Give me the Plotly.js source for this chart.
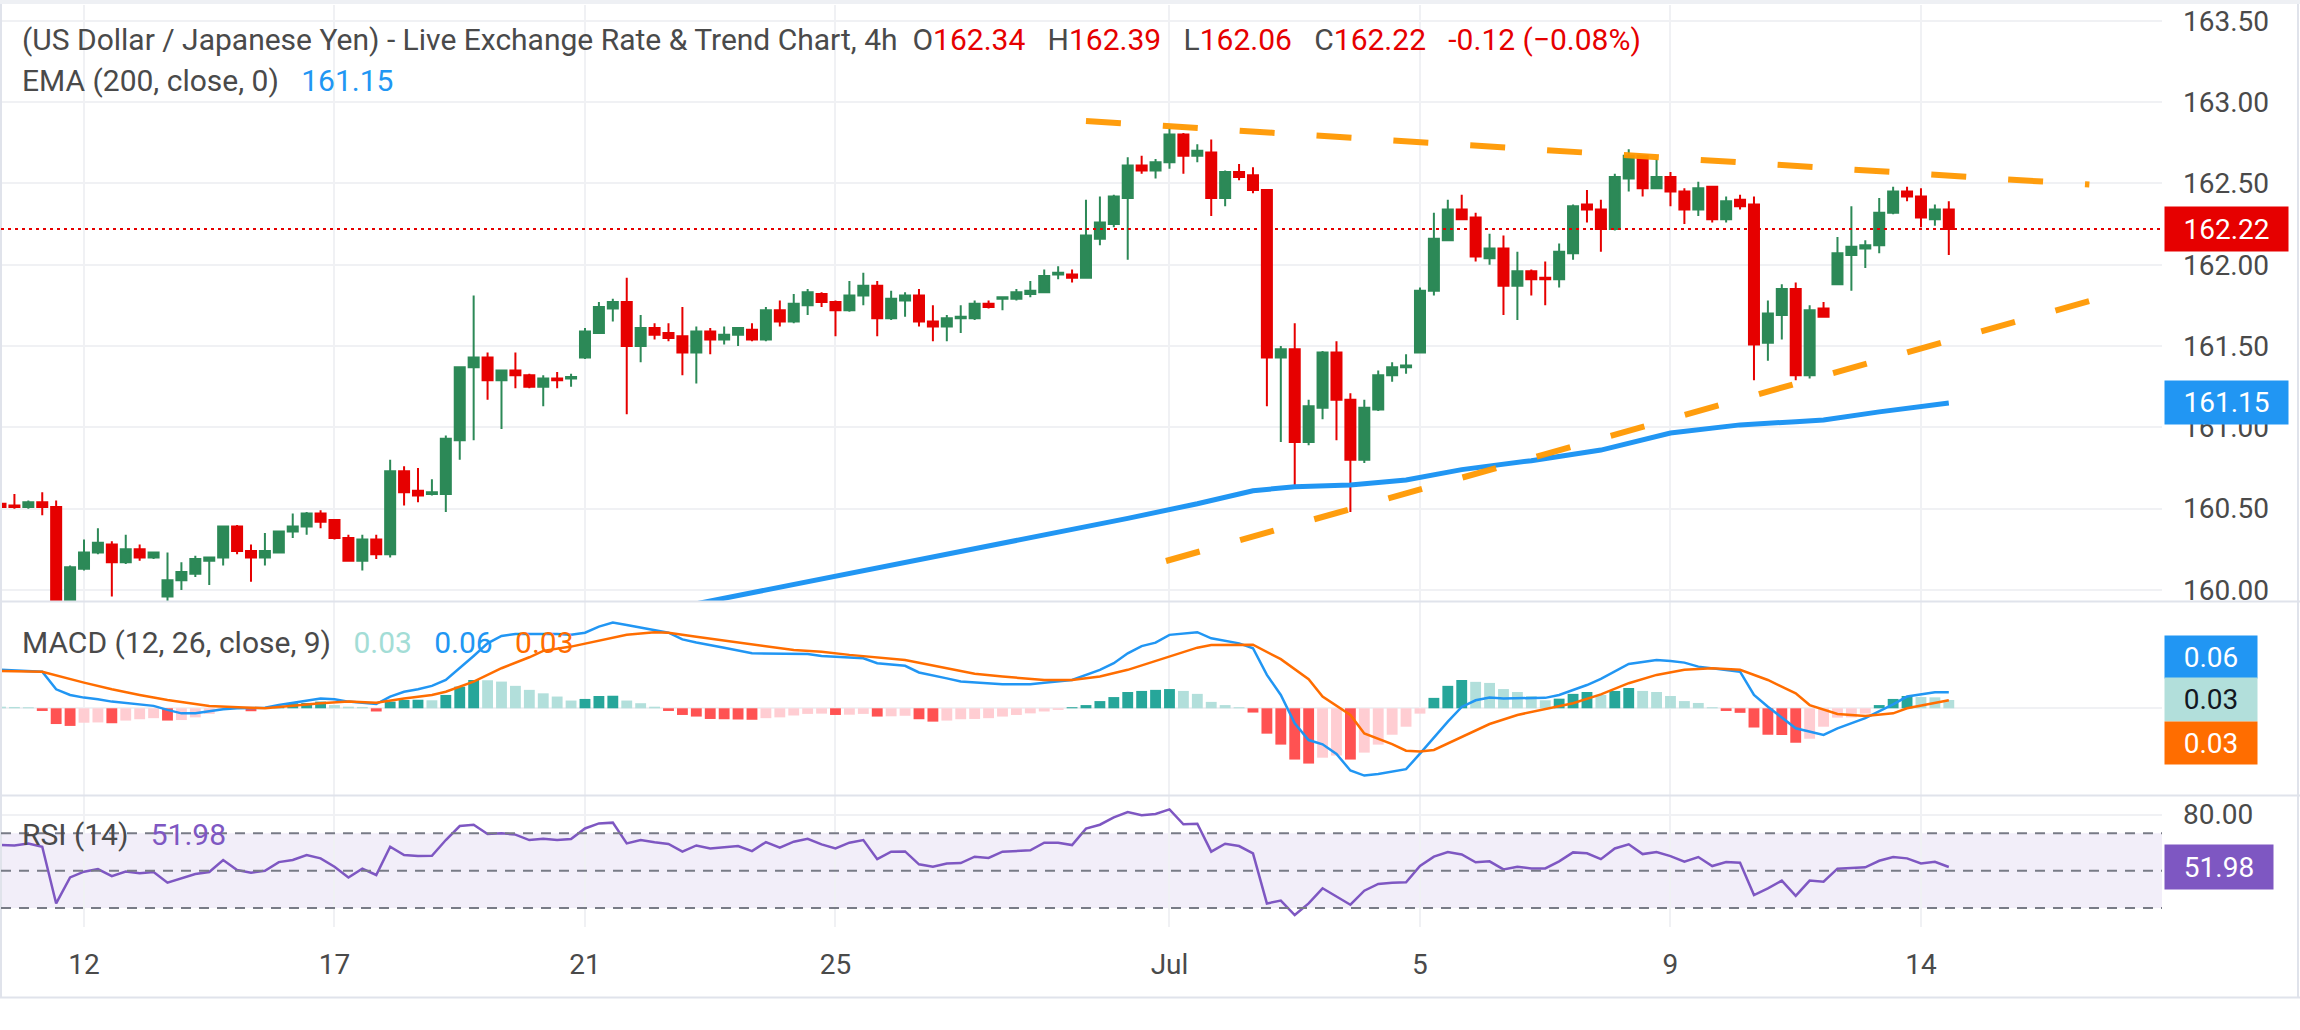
<!DOCTYPE html>
<html><head><meta charset="utf-8">
<script src="https://cdn.plot.ly/plotly-3.0.1.min.js"></script>
<style>html,body{margin:0;padding:0;background:#fff;overflow:hidden}#chart{width:2300px;height:1030px}</style>
</head><body><div id="chart"></div>
<script>
// ---------------- DATA ----------------
const tickIdx = [6, 24, 42, 60, 84, 102, 120, 138];
const tickLabels = ["12", "17", "21", "25", "Jul", "5", "9", "14"];

const open = [
160.53,160.52,160.51,160.54,160.51,159.80,160.13,160.23,160.28,160.17,
160.25,160.20,159.96,160.06,160.10,160.18,160.20,160.39,160.24,160.20,
160.23,160.36,160.39,160.47,160.43,160.32,160.18,160.31,160.22,160.73,
160.61,160.59,160.59,160.92,161.37,161.43,161.29,161.35,161.32,161.25,
161.30,161.30,161.43,161.58,161.73,161.77,161.50,161.61,161.58,161.56,
161.46,161.59,161.54,161.57,161.60,161.54,161.72,161.65,161.75,161.82,
161.77,161.72,161.81,161.87,161.67,161.78,161.81,161.65,161.62,161.67,
161.67,161.76,161.79,161.79,161.82,161.83,161.94,161.94,161.92,162.16,
162.25,162.41,162.61,162.58,162.63,162.80,162.67,162.69,162.41,162.57,
162.55,162.46,161.43,161.48,160.91,161.12,161.46,161.17,160.80,161.11,
161.32,161.37,161.46,161.84,162.15,162.34,162.29,162.04,162.10,161.87,
161.96,161.92,161.91,162.07,162.37,162.34,162.22,162.53,162.67,162.47,
162.54,162.45,162.34,162.48,162.28,162.40,162.37,161.52,161.69,161.85,
161.32,161.73,161.88,162.06,162.10,162.12,162.32,162.45,162.42,162.28,
162.34];
const high = [
160.55,160.59,160.55,160.60,160.55,160.15,160.31,160.38,160.30,160.34,
160.28,160.23,160.23,160.17,160.21,160.20,160.39,160.40,160.28,160.35,
160.36,160.47,160.48,160.49,160.43,160.34,160.34,160.34,160.80,160.76,
160.75,160.68,160.95,161.37,161.81,161.46,161.35,161.46,161.33,161.32,
161.34,161.33,161.61,161.77,161.79,161.92,161.69,161.64,161.64,161.74,
161.62,161.61,161.62,161.61,161.64,161.74,161.78,161.82,161.85,161.83,
161.78,161.90,161.95,161.90,161.84,161.83,161.85,161.75,161.69,161.75,
161.78,161.78,161.80,161.85,161.90,161.97,161.99,161.97,162.40,162.42,
162.43,162.66,162.67,162.65,162.84,162.81,162.74,162.77,162.58,162.62,
162.60,162.46,161.50,161.64,161.17,161.47,161.53,161.21,161.17,161.35,
161.40,161.45,161.86,162.32,162.40,162.43,162.32,162.19,162.18,162.08,
161.97,162.02,162.13,162.37,162.46,162.40,162.56,162.71,162.67,162.65,
162.57,162.47,162.51,162.48,162.42,162.43,162.42,161.78,161.88,161.89,
161.75,161.77,162.17,162.36,162.15,162.41,162.48,162.48,162.47,162.37,
162.39];
const low = [
160.43,160.50,160.50,160.46,159.75,159.78,160.12,160.22,159.96,160.16,
160.18,160.19,159.93,160.00,160.08,160.03,160.15,160.22,160.05,160.15,
160.23,160.32,160.34,160.38,160.31,160.18,160.12,160.19,160.20,160.52,
160.54,160.58,160.48,160.80,160.92,161.17,160.99,161.24,161.24,161.13,
161.24,161.25,161.42,161.58,161.65,161.08,161.40,161.54,161.53,161.32,
161.27,161.45,161.51,161.50,161.53,161.53,161.62,161.64,161.69,161.74,
161.56,161.71,161.75,161.56,161.66,161.68,161.62,161.53,161.53,161.58,
161.66,161.73,161.72,161.78,161.80,161.83,161.91,161.89,161.92,162.12,
162.23,162.03,162.56,162.53,162.59,162.56,162.63,162.30,162.36,162.52,
162.44,161.13,160.91,160.64,160.89,161.05,160.92,160.48,160.78,161.10,
161.28,161.33,161.46,161.81,162.15,162.28,162.02,162.00,161.69,161.66,
161.81,161.75,161.86,162.03,162.26,162.08,162.21,162.45,162.42,162.47,
162.36,162.25,162.30,162.26,162.26,162.34,161.29,161.41,161.54,161.29,
161.30,161.68,161.88,161.84,161.98,162.07,162.31,162.39,162.23,162.24,
162.06];
const close = [
160.51,160.51,160.54,160.51,159.80,160.14,160.23,160.29,160.17,160.25,
160.20,160.23,160.06,160.11,160.19,160.20,160.39,160.24,160.20,160.24,
160.36,160.39,160.47,160.42,160.32,160.18,160.31,160.22,160.73,160.60,
160.58,160.60,160.93,161.37,161.43,161.29,161.35,161.32,161.25,161.30,
161.29,161.31,161.59,161.74,161.77,161.50,161.61,161.57,161.55,161.46,
161.59,161.54,161.57,161.61,161.54,161.72,161.65,161.76,161.83,161.77,
161.72,161.81,161.87,161.67,161.79,161.81,161.65,161.62,161.67,161.68,
161.76,161.74,161.80,161.83,161.84,161.93,161.95,161.92,162.18,162.26,
162.42,162.61,162.58,162.63,162.80,162.67,162.70,162.41,162.57,162.54,
162.46,161.43,161.48,160.91,161.13,161.46,161.17,160.80,161.12,161.32,
161.37,161.38,161.84,162.16,162.34,162.28,162.05,162.10,161.87,161.96,
161.91,161.91,162.08,162.36,162.34,162.22,162.54,162.67,162.47,162.54,
162.45,162.34,162.47,162.28,162.39,162.36,161.51,161.70,161.85,161.32,
161.72,161.68,162.07,162.11,162.12,162.32,162.45,162.42,162.29,162.34,
162.22];

const emaIdx = [50, 61, 81, 86, 90, 93, 97, 101, 105, 110, 115, 120, 125, 129, 131, 135, 138, 140];
const emaVal = [159.915,160.10,160.44,160.53,160.61,160.635,160.645,160.676,160.74,160.795,160.86,160.965,161.015,161.035,161.045,161.095,161.13,161.15];

const upperTrendIdx = [78.0, 150.1];
const upperTrendPrice = [162.884, 162.493];
const lowerTrendIdx = [83.75, 150.1];
const lowerTrendPrice = [160.178, 161.777];

const macdHist = [
0.006,0.005,0.004,-0.010,-0.059,-0.066,-0.054,-0.053,-0.056,-0.046,
-0.041,-0.037,-0.046,-0.044,-0.034,-0.021,-0.006,0.002,-0.011,-0.003,
0.006,0.019,0.020,0.025,0.012,0.006,0.005,-0.012,0.025,0.031,
0.032,0.030,0.050,0.081,0.106,0.105,0.100,0.084,0.069,0.056,
0.044,0.029,0.035,0.046,0.047,0.029,0.019,0.006,-0.010,-0.025,
-0.031,-0.040,-0.041,-0.042,-0.043,-0.037,-0.034,-0.027,-0.021,-0.020,
-0.025,-0.024,-0.021,-0.031,-0.030,-0.028,-0.041,-0.050,-0.046,-0.041,
-0.040,-0.037,-0.031,-0.025,-0.019,-0.012,-0.006,0.004,0.012,0.027,
0.042,0.061,0.065,0.069,0.072,0.065,0.054,0.024,0.012,0.004,
-0.016,-0.095,-0.136,-0.192,-0.207,-0.185,-0.177,-0.192,-0.166,-0.136,
-0.099,-0.069,-0.020,0.039,0.084,0.106,0.099,0.095,0.072,0.061,
0.046,0.030,0.036,0.054,0.061,0.050,0.065,0.076,0.065,0.061,
0.046,0.027,0.020,0.004,-0.010,-0.017,-0.072,-0.099,-0.100,-0.129,
-0.114,-0.069,-0.035,-0.034,-0.020,0.012,0.035,0.046,0.042,0.041,
0.031];

const macdIdx = [0,3,4,5,6,7,8,9,11,12,13,14,16,17,19,20,22,23,24,25,26,27,28,29,30,31,32,33,34,35,36,37,40,41,42,43,44,45,46,48,49,50,52,54,58,59,62,63,65,66,68,69,72,74,75,77,79,80,81,82,83,84,86,87,89,90,91,92,93,94,95,96,97,98,99,101,102,103,104,105,106,107,108,111,112,114,115,117,119,120,121,122,125,126,127,129,131,132,134,136,137,139,140];
const macdVal = [0.144,0.137,0.071,0.050,0.040,0.034,0.025,0.019,0.009,-0.006,-0.019,-0.019,-0.004,0.000,0.002,0.012,0.029,0.037,0.034,0.025,0.021,0.016,0.044,0.062,0.071,0.084,0.106,0.150,0.196,0.243,0.271,0.278,0.278,0.275,0.283,0.306,0.321,0.312,0.303,0.283,0.258,0.246,0.227,0.206,0.203,0.196,0.187,0.169,0.159,0.134,0.112,0.100,0.090,0.090,0.096,0.106,0.144,0.169,0.206,0.233,0.246,0.275,0.285,0.262,0.243,0.225,0.125,0.050,-0.056,-0.119,-0.135,-0.171,-0.233,-0.252,-0.246,-0.228,-0.170,-0.110,-0.050,0.005,0.030,0.040,0.037,0.039,0.050,0.087,0.110,0.166,0.181,0.177,0.171,0.156,0.137,0.050,0.006,-0.075,-0.100,-0.075,-0.037,0.015,0.044,0.060,0.060];

const signalIdx = [0,3,6,8,10,12,15,19,23,25,27,29,31,32,34,36,38,39,41,43,45,47,48,50,54,57,59,61,65,68,70,72,75,77,79,81,84,86,87,90,92,94,95,97,98,100,101,102,103,105,107,109,111,113,115,117,119,121,123,125,127,129,130,132,134,136,137,140];
const signalVal = [0.140,0.137,0.096,0.071,0.050,0.031,0.009,0.000,0.019,0.025,0.021,0.037,0.050,0.062,0.100,0.150,0.191,0.215,0.231,0.253,0.275,0.285,0.283,0.268,0.240,0.218,0.212,0.200,0.181,0.150,0.129,0.119,0.106,0.106,0.119,0.144,0.194,0.227,0.237,0.238,0.184,0.109,0.044,-0.025,-0.094,-0.134,-0.159,-0.162,-0.156,-0.109,-0.059,-0.025,-0.004,0.019,0.052,0.094,0.125,0.144,0.150,0.144,0.106,0.056,0.012,-0.021,-0.029,-0.019,0.000,0.030];

const rsi = [
63.7,63.5,64.6,62.8,32.5,46.4,49.5,50.9,47.1,49.6,
48.6,49.3,43.6,45.9,48.2,49.3,55.7,50.4,48.9,50.0,
54.6,55.7,58.4,56.6,52.1,46.4,51.1,47.7,62.8,58.4,
57.8,58.0,66.4,73.9,74.6,69.6,70.0,69.3,66.4,67.1,
66.4,66.9,72.6,75.3,75.7,64.6,66.4,65.2,64.3,60.2,
63.5,61.9,62.7,63.2,60.5,65.3,62.3,65.5,67.1,64.1,
61.9,65.0,66.4,56.2,60.2,60.3,53.4,52.1,53.9,54.1,
57.5,56.8,60.2,60.6,60.9,65.0,65.0,63.7,72.5,74.6,
78.5,81.4,79.7,80.3,82.8,74.8,75.1,60.2,64.4,63.2,
59.3,32.5,34.0,26.3,32.5,40.6,36.1,31.8,39.3,42.9,
43.6,43.8,52.5,57.5,60.0,58.7,54.5,55.0,50.7,52.1,
51.2,51.2,55.0,59.8,59.3,56.2,61.9,64.1,58.9,60.0,
57.8,54.8,57.3,52.5,54.6,54.3,37.0,40.6,44.7,36.5,
44.7,44.1,51.1,51.6,51.8,55.3,57.3,56.6,53.9,54.8,
51.98];

const priceTicks = [160.0, 160.5, 161.0, 161.5, 162.0, 162.5, 163.0, 163.5];
const rsiBands = [30, 50, 70];
const rsiTicks = [80];
const lastEMA = 161.15;
const lastMACD = 0.06, lastSignal = 0.03, lastHist = 0.03, lastRSI = 51.98;
const changeText = "-0.12 (\u22120.08%)";
const titleText = "(US Dollar / Japanese Yen) - Live Exchange Rate &amp; Trend Chart, 4h";
const emaText = "EMA (200, close, 0)";
const macdText = "MACD (12, 26, close, 9)";
const rsiText = "RSI (14)";

// ---------------- STYLE / LAYOUT ----------------
const FONT = "Roboto, 'Open Sans', 'Liberation Sans', sans-serif";
const TXT = "#4a4a4a";
const GRID = "#f0f1f4";
const SEP = "#e0e3eb";
const UP = "#2c8957", DOWN = "#e60000";
const BLUE = "#2196F3", ORANGE = "#FF6D00", PURPLE = "#7E57C2", TREND = "#FF9800";

const PL = 1, PR = 2162, PT = 5, PB = 927;
const fx = p => (p - PL) / (PR - PL);
const fy = p => (PB - p) / (PB - PT);

const xs = open.map((_, i) => i);
const last = close.length - 1;
const fmt = v => v.toFixed(2);
const sp = n => "\u00a0".repeat(n);
const red = s => `<span style="color:${DOWN}">${s}</span>`;

const histColors = macdHist.map((h, i) => {
  const prev = i > 0 ? macdHist[i - 1] : h;
  if (h >= 0) return h > prev ? "#26A69A" : "#B2DFDB";
  return h < prev ? "#FF5252" : "#FFCDD2";
});

const traces = [
  {type: "candlestick", x: xs, open, high, low, close, xaxis: "x", yaxis: "y",
   increasing: {line: {color: UP, width: 2}, fillcolor: UP},
   decreasing: {line: {color: DOWN, width: 2}, fillcolor: DOWN},
   whiskerwidth: 0, hoverinfo: "skip", showlegend: false},
  {type: "scatter", mode: "lines", x: emaIdx, y: emaVal, xaxis: "x", yaxis: "y",
   line: {color: BLUE, width: 5}, hoverinfo: "skip", showlegend: false},
  {type: "scatter", mode: "lines", x: upperTrendIdx, y: upperTrendPrice, xaxis: "x", yaxis: "y",
   line: {color: TREND, width: 6, dash: "35px,42px"}, opacity: 0.95, hoverinfo: "skip", showlegend: false},
  {type: "scatter", mode: "lines", x: lowerTrendIdx, y: lowerTrendPrice, xaxis: "x", yaxis: "y",
   line: {color: TREND, width: 6, dash: "35px,42px"}, opacity: 0.95, hoverinfo: "skip", showlegend: false},
  {type: "bar", x: xs, y: macdHist, xaxis: "x", yaxis: "y2", width: 0.78,
   marker: {color: histColors, line: {width: 0}}, hoverinfo: "skip", showlegend: false},
  {type: "scatter", mode: "lines", x: macdIdx, y: macdVal, xaxis: "x", yaxis: "y2",
   line: {color: BLUE, width: 2.5}, hoverinfo: "skip", showlegend: false},
  {type: "scatter", mode: "lines", x: signalIdx, y: signalVal, xaxis: "x", yaxis: "y2",
   line: {color: ORANGE, width: 2.5}, hoverinfo: "skip", showlegend: false},
  {type: "scatter", mode: "lines", x: xs, y: rsi, xaxis: "x", yaxis: "y3",
   line: {color: PURPLE, width: 2.5}, hoverinfo: "skip", showlegend: false}
];

const shapes = [
  {type: "rect", xref: "paper", yref: "paper", x0: fx(0), x1: fx(2300), y0: fy(0), y1: fy(4), fillcolor: "#eef0f4", line: {width: 0}, layer: "below"},
  {type: "rect", xref: "paper", yref: "y3", x0: 0, x1: 1, y0: rsiBands[0], y1: rsiBands[2], fillcolor: "rgba(126,87,194,0.1)", line: {width: 0}, layer: "below"},
  {type: "line", xref: "paper", yref: "paper", x0: fx(0), x1: fx(2300), y0: fy(601.5), y1: fy(601.5), line: {color: SEP, width: 2}},
  {type: "line", xref: "paper", yref: "paper", x0: fx(0), x1: fx(2300), y0: fy(795.5), y1: fy(795.5), line: {color: SEP, width: 2}},
  {type: "line", xref: "paper", yref: "paper", x0: fx(0), x1: fx(2300), y0: fy(997.5), y1: fy(997.5), line: {color: SEP, width: 2}},
  {type: "line", xref: "paper", yref: "paper", x0: fx(1), x1: fx(1), y0: fy(4), y1: fy(997.5), line: {color: SEP, width: 2}},
  {type: "line", xref: "paper", yref: "paper", x0: fx(2298), x1: fx(2298), y0: fy(4), y1: fy(997.5), line: {color: SEP, width: 2}},
  {type: "line", xref: "paper", yref: "y", x0: 0, x1: 1, y0: close[last], y1: close[last], line: {color: DOWN, width: 2, dash: "3px,4px"}}
];
rsiBands.forEach(v => shapes.push({type: "line", xref: "paper", yref: "y3", x0: 0, x1: 1, y0: v, y1: v,
  line: {color: "#787B86", width: 2, dash: "10px,8px"}}));

const legendFont = {family: FONT, size: 30, color: TXT};
const annotations = [
  {xref: "paper", yref: "paper", x: fx(20), y: fy(40), xanchor: "left", yanchor: "middle", showarrow: false, font: legendFont,
   text: titleText + sp(2) + "O" + red(fmt(open[last])) + sp(3) + "H" + red(fmt(high[last])) + sp(3) + "L" + red(fmt(low[last])) + sp(3) + "C" + red(fmt(close[last])) + sp(3) + red(changeText)},
  {xref: "paper", yref: "paper", x: fx(20), y: fy(81), xanchor: "left", yanchor: "middle", showarrow: false, font: legendFont,
   text: emaText + sp(3) + `<span style="color:${BLUE}">${fmt(lastEMA)}</span>`},
  {xref: "paper", yref: "paper", x: fx(20), y: fy(643), xanchor: "left", yanchor: "middle", showarrow: false, font: legendFont,
   text: macdText + sp(3) + `<span style="color:#a3ddd6">${fmt(lastHist)}</span>` + sp(3) + `<span style="color:${BLUE}">${fmt(lastMACD)}</span>` + sp(3) + `<span style="color:${ORANGE}">${fmt(lastSignal)}</span>`},
  {xref: "paper", yref: "paper", x: fx(20), y: fy(834), xanchor: "left", yanchor: "middle", showarrow: false, font: legendFont,
   text: rsiText + sp(3) + `<span style="color:${PURPLE}">${fmt(lastRSI)}</span>`},
  {xref: "paper", yref: "y", x: fx(2164), y: close[last], xanchor: "left", yanchor: "middle", showarrow: false,
   text: fmt(close[last]), bgcolor: DOWN, width: 123, height: 44, borderpad: 0, align: "center", valign: "middle",
   font: {family: FONT, size: 28, color: "#ffffff"}},
  {xref: "paper", yref: "y", x: fx(2164), y: lastEMA, xanchor: "left", yanchor: "middle", showarrow: false,
   text: fmt(lastEMA), bgcolor: BLUE, width: 123, height: 43, borderpad: 0, align: "center", valign: "middle",
   font: {family: FONT, size: 28, color: "#ffffff"}},
  {xref: "paper", yref: "paper", x: fx(2164), y: fy(657.4), xanchor: "left", yanchor: "middle", showarrow: false,
   text: fmt(lastMACD), bgcolor: BLUE, width: 92, height: 42, borderpad: 0, align: "center", valign: "middle",
   font: {family: FONT, size: 28, color: "#ffffff"}},
  {xref: "paper", yref: "paper", x: fx(2164), y: fy(700), xanchor: "left", yanchor: "middle", showarrow: false,
   text: fmt(lastHist), bgcolor: "#B2DFDB", width: 92, height: 43, borderpad: 0, align: "center", valign: "middle",
   font: {family: FONT, size: 28, color: "#131722"}},
  {xref: "paper", yref: "paper", x: fx(2164), y: fy(742.8), xanchor: "left", yanchor: "middle", showarrow: false,
   text: fmt(lastSignal), bgcolor: ORANGE, width: 92, height: 42, borderpad: 0, align: "center", valign: "middle",
   font: {family: FONT, size: 28, color: "#ffffff"}},
  {xref: "paper", yref: "y3", x: fx(2164), y: lastRSI, xanchor: "left", yanchor: "middle", showarrow: false,
   text: fmt(lastRSI), bgcolor: PURPLE, width: 108, height: 44, borderpad: 0, align: "center", valign: "middle",
   font: {family: FONT, size: 28, color: "#ffffff"}}
];

const tickFont = {family: FONT, size: 28, color: TXT};
const layout = {
  width: 2300, height: 1030,
  margin: {l: PL, r: 2300 - PR, t: PT, b: 1030 - PB, autoexpand: false},
  paper_bgcolor: "#ffffff", plot_bgcolor: "#ffffff",
  showlegend: false, hovermode: false, dragmode: false,
  boxgap: 0.28, boxgroupgap: 0, bargap: 0.2,
  font: {family: FONT, color: TXT},
  xaxis: {domain: [0, 1], range: [0.036, 155.32], anchor: "y3", type: "linear",
    tickmode: "array", tickvals: tickIdx, ticktext: tickLabels, tickfont: tickFont,
    ticks: "", showgrid: true, gridcolor: GRID, gridwidth: 2, zeroline: false, showline: false,
    ticklabelstandoff: 18, rangeslider: {visible: false}, fixedrange: true},
  yaxis: {domain: [fy(601), 1], range: [159.932, 163.597], anchor: "x", side: "right",
    tickmode: "array", tickvals: priceTicks, ticktext: priceTicks.map(fmt), tickfont: tickFont,
    ticks: "", showgrid: true, gridcolor: GRID, gridwidth: 2, zeroline: false, showline: false,
    ticklabelstandoff: 20, fixedrange: true},
  yaxis2: {domain: [fy(795), fy(602)], range: [-0.3247, 0.398], anchor: "x", side: "right",
    tickmode: "array", tickvals: [0], showticklabels: false,
    ticks: "", showgrid: true, gridcolor: GRID, gridwidth: 2, zeroline: false, showline: false, fixedrange: true},
  yaxis3: {domain: [0, fy(796)], range: [19.9, 89.95], anchor: "x", side: "right",
    tickmode: "array", tickvals: rsiTicks, ticktext: rsiTicks.map(fmt), tickfont: tickFont,
    ticks: "", showgrid: true, gridcolor: GRID, gridwidth: 2, zeroline: false, showline: false,
    ticklabelstandoff: 20, fixedrange: true},
  shapes, annotations
};

Plotly.newPlot("chart", traces, layout, {staticPlot: true, displayModeBar: false});
</script></body></html>
